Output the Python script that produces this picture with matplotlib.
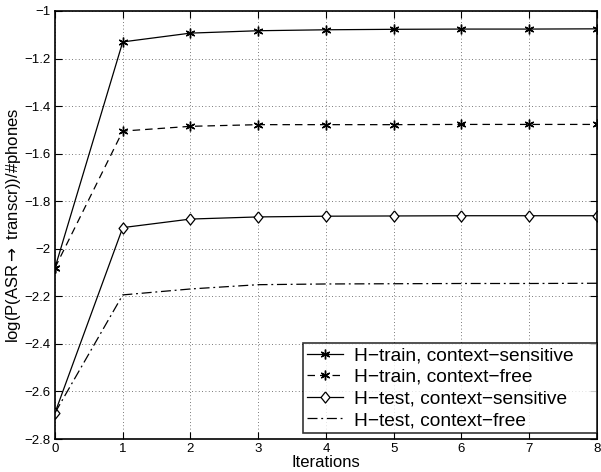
import numpy as np
import matplotlib
matplotlib.use("Agg")
import matplotlib.pyplot as plt

plt.rcParams["font.family"] = ["Liberation Sans", "DejaVu Sans"]

iterations = [0, 1, 2, 3, 4, 5, 6, 7, 8]
train_cs = [-2.08, -1.13, -1.093, -1.083, -1.079, -1.077, -1.076, -1.076, -1.075]
train_cf = [-2.08, -1.505, -1.485, -1.478, -1.478, -1.478, -1.477, -1.477, -1.477]
test_cs = [-2.69, -1.911, -1.875, -1.866, -1.863, -1.862, -1.861, -1.861, -1.861]
test_cf = [-2.69, -2.194, -2.169, -2.151, -2.148, -2.147, -2.146, -2.146, -2.145]

ytick_vals = [-2.8, -2.6, -2.4, -2.2, -2.0, -1.8, -1.6, -1.4, -1.2, -1.0]
ytick_labels = ["\u22122.8", "\u22122.6", "\u22122.4", "\u22122.2", "\u22122",
                "\u22121.8", "\u22121.6", "\u22121.4", "\u22121.2", "\u22121"]

# matlab style markers
asterisk = (6, 2, 0)
diamond = [(0, 1), (0.8, 0), (0, -1), (-0.8, 0), (0, 1)]

fig = plt.figure(figsize=(6.01, 4.72), dpi=100)
ax = fig.add_axes([0.0915, 0.0699, 0.9018, 0.9068])

ax.plot(iterations, train_cs, "k-", marker=asterisk, markersize=7, markeredgewidth=1.0,
        linewidth=0.9, label="H\u2212train, context\u2212sensitive")
ax.plot(iterations, train_cf, "k--", marker=asterisk, markersize=7, markeredgewidth=1.0,
        linewidth=0.9, dashes=(6, 4), label="H\u2212train, context\u2212free")
ax.plot(iterations, test_cs, "k-", marker=diamond, markersize=8, markeredgewidth=0.9,
        markerfacecolor="white", linewidth=0.9, label="H\u2212test, context\u2212sensitive")
ax.plot(iterations, test_cf, "k-.", linewidth=0.9, dashes=(8, 3, 1.5, 3),
        label="H\u2212test, context\u2212free")

ax.set_xlim(0, 8)
ax.set_ylim(-2.8, -1)
ax.set_xticks(iterations)
ax.set_yticks(ytick_vals)
ax.set_yticklabels(ytick_labels)
ax.tick_params(direction="in", top=True, right=True, labelsize=9.5, length=5, pad=3)
ax.grid(True, linestyle=(0, (1, 3)), color="black", linewidth=0.6, alpha=0.7)
for s in ax.spines.values():
    s.set_linewidth(1.2)

ax.set_xlabel("Iterations", fontsize=12, labelpad=0)
ax.set_ylabel("log(P(ASR$\\rightarrow$ transcr))/#phones", fontsize=12, labelpad=1)

leg = ax.legend(loc="lower left", bbox_to_anchor=(0.4576, 0.014, 0.5424, 0.2),
                mode="expand", fontsize=13.8, frameon=True, fancybox=False,
                edgecolor="black", borderaxespad=0, handlelength=1.9,
                borderpad=0.2, labelspacing=0.22, handletextpad=0.55)
leg.get_frame().set_linewidth(1.2)

fig.savefig("out.png", dpi=100)
